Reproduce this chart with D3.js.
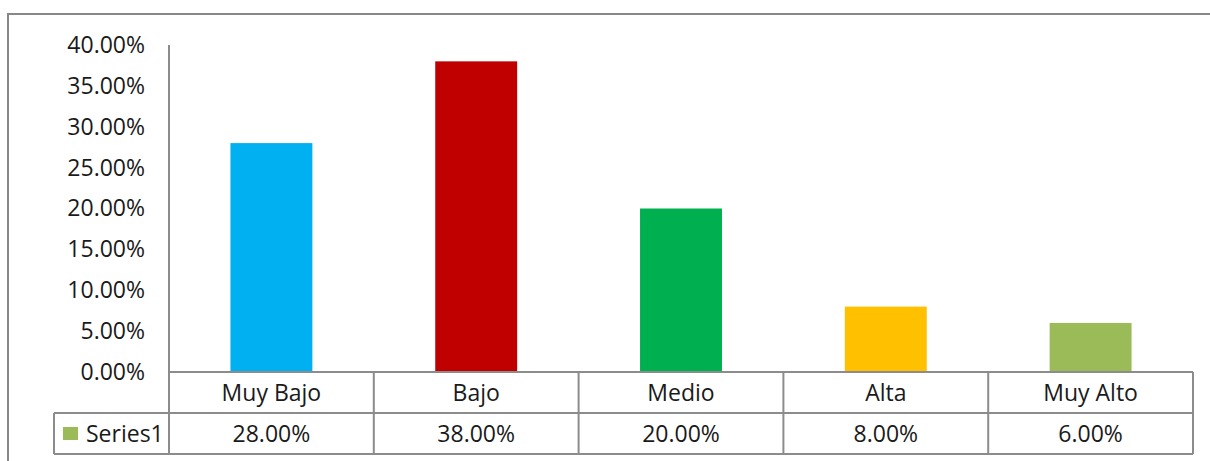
<!DOCTYPE html>
<html>
<head>
<meta charset="utf-8">
<script src="https://cdn.jsdelivr.net/npm/d3@7"></script>
<style>
  html, body { margin: 0; padding: 0; background: #fff; }
  svg { display: block; }
  text { font-family: "Open Sans", "Liberation Sans", sans-serif; fill: #1a1a1a; }
</style>
</head>
<body>
<svg id="chart" width="1210" height="461"></svg>
<script>
const categories = ["Muy Bajo", "Bajo", "Medio", "Alta", "Muy Alto"];
const values = [0.28, 0.38, 0.20, 0.08, 0.06];
const barColors = ["#00B0F0", "#C00000", "#00B050", "#FFC000", "#9BBB59"];
const yTicks = [0, 0.05, 0.10, 0.15, 0.20, 0.25, 0.30, 0.35, 0.40];
const seriesName = "Series1";
const legendColor = "#9BBB59";

const svg = d3.select("#chart");
const gridColor = "#8c8c8c";
const fontSize = 23;

const plotLeft = 169, plotRight = 1193, plotTop = 45, plotBottom = 372;
const row1Bottom = 413, row2Bottom = 454, legendLeft = 54;

// Outer chart border (right/bottom extend beyond view)
svg.append("rect")
  .attr("x", 8).attr("y", 14)
  .attr("width", 1220).attr("height", 470)
  .attr("fill", "none").attr("stroke", "#888").attr("stroke-width", 2);

const x = d3.scaleBand().domain(categories).range([plotLeft, plotRight]).padding(0);
const xb = d3.scaleBand().domain(categories).range([plotLeft, plotRight])
  .paddingInner(0.6).paddingOuter(0.3);
const y = d3.scaleLinear().domain([0, 0.4]).range([plotBottom, plotTop]);
const fmt = d3.format(".2%");

// Bars
svg.append("g").selectAll("rect").data(values).join("rect")
  .attr("x", (d, i) => xb(categories[i]))
  .attr("y", d => y(d))
  .attr("width", xb.bandwidth())
  .attr("height", d => y(0) - y(d))
  .attr("fill", (d, i) => barColors[i]);

// Y axis
const yAxis = d3.axisLeft(y).tickValues(yTicks).tickFormat(fmt).tickSize(0).tickPadding(24);
const yg = svg.append("g").attr("transform", `translate(${plotLeft},0)`).call(yAxis);
yg.select(".domain").remove();
yg.selectAll("text").attr("font-size", fontSize).style("font-family", "'Open Sans', sans-serif").attr("fill", "#1a1a1a");

svg.append("line")
  .attr("x1", plotLeft).attr("x2", plotLeft)
  .attr("y1", plotTop).attr("y2", row2Bottom)
  .attr("stroke", gridColor).attr("stroke-width", 2);

// Data table horizontal lines
const hlines = [
  [plotLeft, plotRight, plotBottom],
  [legendLeft, plotRight, row1Bottom],
  [legendLeft, plotRight, row2Bottom]
];
svg.append("g").selectAll("line").data(hlines).join("line")
  .attr("x1", d => d[0]).attr("x2", d => d[1])
  .attr("y1", d => d[2]).attr("y2", d => d[2])
  .attr("stroke", gridColor).attr("stroke-width", 2);

// Vertical column lines
const colEdges = categories.map(c => x(c) + x.bandwidth());
svg.append("g").selectAll("line").data(colEdges).join("line")
  .attr("x1", d => d).attr("x2", d => d)
  .attr("y1", plotBottom).attr("y2", row2Bottom)
  .attr("stroke", gridColor).attr("stroke-width", 2);
svg.append("line")
  .attr("x1", legendLeft).attr("x2", legendLeft)
  .attr("y1", row1Bottom).attr("y2", row2Bottom)
  .attr("stroke", gridColor).attr("stroke-width", 2);

// Category labels
const row1Mid = (plotBottom + row1Bottom) / 2;
const row2Mid = (row1Bottom + row2Bottom) / 2;
const capOff = fontSize * 0.357;
svg.append("g").selectAll("text").data(categories).join("text")
  .attr("x", d => x(d) + x.bandwidth() / 2)
  .attr("y", row1Mid + capOff)
  .attr("text-anchor", "middle")
  .attr("font-size", fontSize)
  .text(d => d);

// Value labels
svg.append("g").selectAll("text").data(values).join("text")
  .attr("x", (d, i) => x(categories[i]) + x.bandwidth() / 2)
  .attr("y", row2Mid + capOff)
  .attr("text-anchor", "middle")
  .attr("font-size", fontSize)
  .text(d => fmt(d));

// Legend key
svg.append("rect")
  .attr("x", 63).attr("y", row2Mid - 6.5)
  .attr("width", 15).attr("height", 13)
  .attr("fill", legendColor);
svg.append("text")
  .attr("x", 86).attr("y", row2Mid + capOff)
  .attr("font-size", fontSize)
  .text(seriesName);
</script>
</body>
</html>
